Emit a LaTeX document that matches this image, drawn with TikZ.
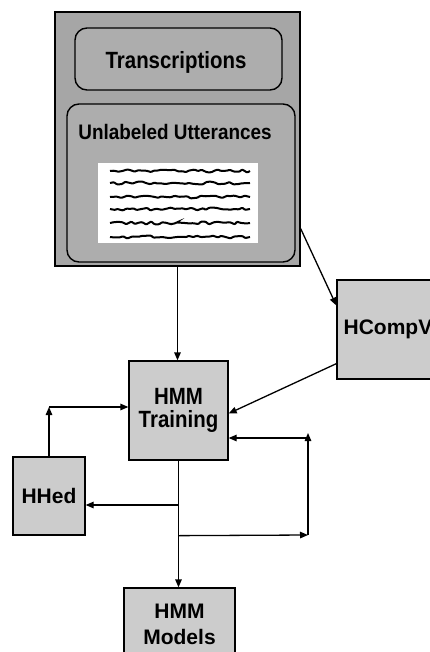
\documentclass[tikz,border=0pt]{standalone}
\usepackage{fontspec}
\setmainfont{Liberation Sans}
\usetikzlibrary{calc,arrows.meta,decorations.pathmorphing}
\newcommand{\bigf}{\bfseries\fontsize{23.5}{25}\selectfont\addfontfeature{FakeStretch=0.87}}
\newcommand{\midf}{\bfseries\fontsize{21}{26}\selectfont}
\begin{document}
\begin{tikzpicture}[x=1pt,y=-1pt,
  box/.style={draw=black,line width=1.3pt,fill=black!20,inner sep=0pt,font=\midf,align=center},
  container/.style={draw=black,line width=1.4pt,fill=black!35,inner sep=0pt},
  rbox/.style={draw=black,line width=1.4pt,fill=black!32,rounded corners=12pt,inner sep=0pt},
  lbl/.style={inner sep=0pt},
  arr/.style={draw=black,line width=1.3pt,-{Triangle[length=8pt,width=6.5pt]}},
  wavel/.style={line width=2pt,decorate,decoration={random steps,segment length=4pt,amplitude=1.5pt},rounded corners=0.8pt}]
\path[use as bounding box,clip] (0,0) rectangle (430,652);
\fill[white] (0,0) rectangle (430,652);
% outer container
\node[container,minimum width=245pt,minimum height=254pt] (outer) at (177.5,139) {};
\node[rbox,minimum width=207pt,minimum height=62pt] (trans) at (178.5,59) {};
\node[lbl,font=\bigf] (transt) at (176,62) {Transcriptions};
\node[rbox,minimum width=228pt,minimum height=158pt] (unlab) at (181,183) {};
\node[lbl,font=\bfseries\fontsize{21}{23}\selectfont\addfontfeature{FakeStretch=0.9}] (unlabt) at (175,132) {Unlabeled Utterances};
\node[fill=white,minimum width=160pt,minimum height=80pt,inner sep=0pt] (wave) at (178,203) {};
\pgfmathsetseed{7}
\foreach \yy in {171,183,197,209,223,237}
  \draw[wavel] (110,\yy) -- (250,\yy);
% boxes
\node[box,minimum width=99pt,minimum height=99pt,font=\bigf] (train) at (178.5,410.5) {HMM\\[-2pt]Training};
\node[box,minimum width=102pt,minimum height=99pt] (hcomp) at (388,329.5) {HCompV};
\node[box,minimum width=72pt,minimum height=78pt] (hhed) at (49,496) {HHed};
\node[box,minimum width=111pt,minimum height=72pt] (models) at (179.5,624) {HMM\\Models};
% connectors
\draw[arr] (outer.south) -- (outer.south |- train.north);
\draw[arr] ($(outer.south east)+(0,-38)$) -- ($(hcomp.west)+(0,-24)$);
\draw[arr] ($(hcomp.south west)+(0,-16)$) -- ($(train.east)+(0,3)$);
\coordinate (hu) at ($(train.west)+(0,-3.5)$);
\coordinate (hc) at (hhed.north |- hu);
\draw[arr] (hhed.north) -- (hc);
\draw[arr] (hc) -- (hu);
\draw[arr] (train.south) -- (train.south |- models.north);
\coordinate (he) at ($(hhed.east)+(0,9)$);
\draw[arr] (train.south |- he) -- (he);
\coordinate (b1) at ($(train.south)+(0,75)$);
\coordinate (b2) at (308,535);
\coordinate (b3) at (308,433);
\coordinate (te) at ($(train.east)+(0,27.5)$);
\draw[arr] (b1) -- (b2);
\draw[arr] (b2) -- (b3);
\draw[arr] (b2 |- te) -- (te);
\end{tikzpicture}
\end{document}
